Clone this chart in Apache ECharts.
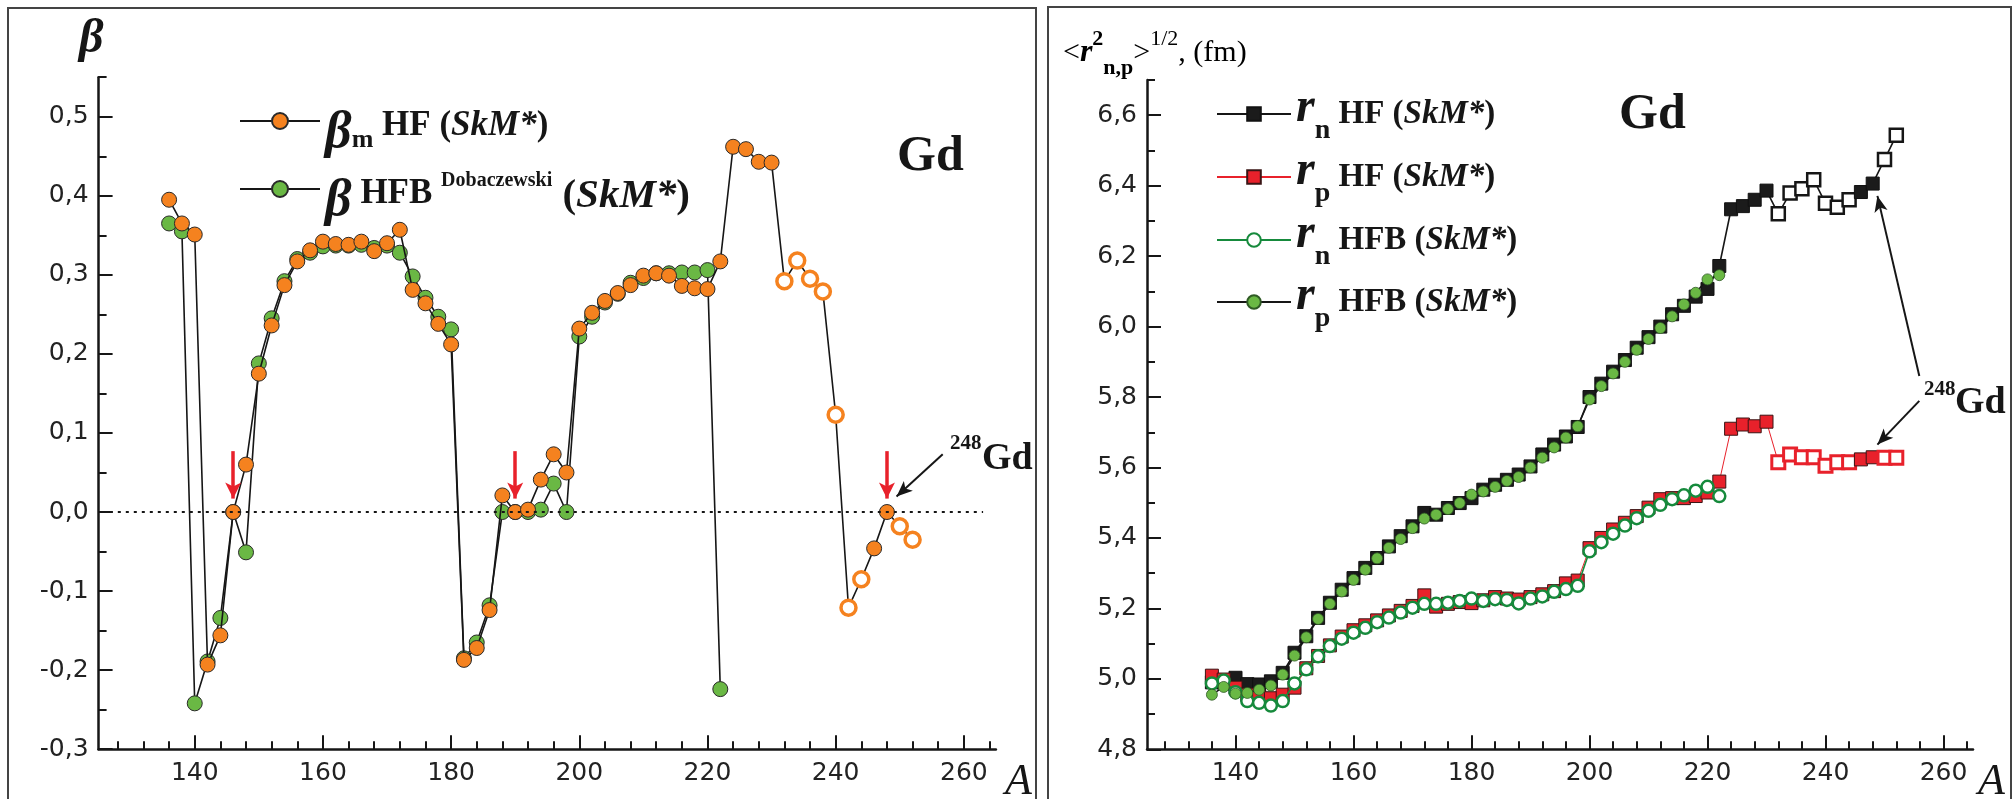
<!DOCTYPE html>
<html><head><meta charset="utf-8">
<script src="https://cdn.jsdelivr.net/npm/echarts@6/dist/echarts.min.js"></script>
<style>html,body{margin:0;padding:0;background:#fff}#c{width:2014px;height:799px}</style>
</head><body><div id="c"></div>
<script>
// ---------- data ----------
const A_HF  = [136,138,140,142,144,146,148,150,152,154,156,158,160,162,164,166,168,170,172,174,176,178,180,182,184,186,188,190,192,194,196,198,200,202,204,206,208,210,212,214,216,218,220,222,224,226,228,230,232,234,236,238,240,242,244,246,248,250,252];
const A_HFB = [136,138,140,142,144,146,148,150,152,154,156,158,160,162,164,166,168,170,172,174,176,178,180,182,184,186,188,190,192,194,196,198,200,202,204,206,208,210,212,214,216,218,220,222];
const openA = [232,234,236,238,240,242,244,250,252];   // nuclei drawn with open symbols
const arrowA = [146,190,248];                           // nuclei marked with red arrows

const betaHF  = [0.395,0.365,0.351,-0.193,-0.156,0.000,0.060,0.175,0.236,0.287,0.317,0.331,0.342,0.339,0.338,0.342,0.330,0.340,0.357,0.281,0.264,0.238,0.212,
                 -0.187,-0.172,-0.124,0.021,0.000,0.003,0.041,0.073,0.050,0.232,0.252,0.267,0.277,0.287,0.299,0.302,0.299,0.286,0.283,0.282,0.317,
                 0.462,0.459,0.443,0.442,0.292,0.318,0.295,0.279,0.123,-0.121,-0.085,-0.046,0.000,-0.018,-0.035];
const betaHFB = [0.365,0.355,-0.242,-0.189,-0.134,0.000,-0.051,0.188,0.245,0.292,0.320,0.328,0.336,0.337,0.337,0.338,0.334,0.337,0.328,0.298,0.271,0.247,0.231,
                 -0.185,-0.165,-0.118,0.000,0.000,0.000,0.003,0.036,0.000,0.222,0.247,0.265,0.276,0.290,0.296,0.302,0.302,0.303,0.303,0.306,-0.224];

const rnHF  = [4.990,4.990,5.003,4.985,4.984,4.993,5.017,5.074,5.121,5.173,5.216,5.253,5.286,5.315,5.343,5.376,5.405,5.433,5.471,5.466,5.485,5.499,5.513,
               5.537,5.551,5.565,5.580,5.603,5.637,5.665,5.688,5.715,5.800,5.838,5.872,5.905,5.940,5.970,6.000,6.035,6.059,6.085,6.107,6.172,
               6.333,6.342,6.360,6.386,6.320,6.379,6.391,6.417,6.350,6.339,6.360,6.382,6.406,6.474,6.543];
const rpHF  = [5.009,4.998,4.975,4.955,4.950,4.945,4.955,4.975,5.030,5.065,5.095,5.120,5.138,5.152,5.166,5.180,5.193,5.207,5.237,5.205,5.213,5.218,5.215,
               5.223,5.232,5.228,5.225,5.232,5.240,5.249,5.271,5.279,5.371,5.400,5.424,5.443,5.462,5.486,5.510,5.513,5.513,5.519,5.529,5.560,
               5.710,5.722,5.717,5.730,5.615,5.637,5.629,5.629,5.605,5.615,5.615,5.623,5.629,5.628,5.628];
const rnHFB = [4.987,4.995,4.962,4.937,4.932,4.924,4.937,4.987,5.027,5.064,5.093,5.114,5.131,5.145,5.161,5.174,5.188,5.202,5.213,5.213,5.216,5.221,5.228,
               5.221,5.226,5.224,5.214,5.228,5.234,5.247,5.255,5.264,5.362,5.388,5.412,5.435,5.456,5.477,5.494,5.510,5.521,5.534,5.545,5.519];
const rpHFB = [4.955,4.977,4.958,4.960,4.969,4.981,5.012,5.066,5.118,5.170,5.213,5.248,5.281,5.310,5.342,5.372,5.397,5.428,5.455,5.466,5.482,5.499,5.523,
               5.532,5.545,5.562,5.573,5.600,5.628,5.657,5.685,5.717,5.793,5.831,5.867,5.900,5.934,5.965,5.996,6.029,6.063,6.096,6.134,6.146];

const xMajor = [140,160,180,200,220,240,260];
const xMinor = [128,132,136,144,148,152,156,164,168,172,176,184,188,192,196,204,208,212,216,224,228,232,236,244,248,252,256,264];
const yMajorL = [-0.3,-0.2,-0.1,0.0,0.1,0.2,0.3,0.4,0.5];
const yMinorL = [-0.25,-0.15,-0.05,0.05,0.15,0.25,0.35,0.45,0.55];
const yMajorR = [4.8,5.0,5.2,5.4,5.6,5.8,6.0,6.2,6.4,6.6];
const yMinorR = [4.9,5.1,5.3,5.5,5.7,5.9,6.1,6.3,6.5,6.7];

// ---------- helpers ----------
const INK = '#161616';
const ORANGE = '#f5821f', GREEN = '#6ab844', DGREEN = '#168a3c', RED = '#e8212b';
const SERIF = 'Liberation Serif', SANS = 'DejaVu Sans';
function build(xs, ys, openStyle) {
  return xs.map((a, i) => openA.includes(a) && openStyle ? {value: [a, ys[i]], itemStyle: openStyle} : [a, ys[i]]);
}
const comma = v => v.toFixed(1).replace('.', ',');

function axesPair(grid, min, max, major, minor, isX, fmt) {
  const common = {gridIndex: grid, type: 'value', min: min, max: max, splitLine: {show: false}};
  const pos = isX ? 'bottom' : 'left';
  return [
    Object.assign({}, common, {
      position: pos,
      axisLine: {show: true, onZero: false, lineStyle: {color: INK, width: 2.5}},
      axisTick: {show: true, inside: true, length: 14, customValues: major, lineStyle: {color: INK, width: 2}},
      axisLabel: {show: true, customValues: major, formatter: fmt, margin: isX ? 12 : 10,
                  fontFamily: SANS, fontSize: 25, color: '#222'}
    }),
    Object.assign({}, common, {
      position: pos,
      axisLine: {show: false, onZero: false},
      axisTick: {show: true, inside: true, length: 8, customValues: minor, lineStyle: {color: INK, width: 2}},
      axisLabel: {show: false}
    })
  ];
}

const xAxes = [].concat(
  axesPair(0, 125, 265, xMajor, xMinor, true, v => String(v)),
  axesPair(1, 125, 265, xMajor, xMinor, true, v => String(v))
);
const yAxes = [].concat(
  axesPair(0, -0.3, 0.55, yMajorL, yMinorL, false, comma),
  axesPair(1, 4.8, 6.7, yMajorR, yMinorR, false, comma)
);

// ---------- legend rich text ----------
const richL = {
  t: {fontFamily: SERIF, fontWeight: 'bold', fontSize: 35, lineHeight: 38, padding: [13, 0, 3, 0], color: INK},
  i: {fontFamily: SERIF, fontWeight: 'bold', fontStyle: 'italic', fontSize: 35, lineHeight: 38, padding: [13, 0, 3, 0], color: INK},
  T: {fontFamily: SERIF, fontWeight: 'bold', fontSize: 41, lineHeight: 38, padding: [15, 0, 1, 0], color: INK},
  I: {fontFamily: SERIF, fontWeight: 'bold', fontStyle: 'italic', fontSize: 41, lineHeight: 38, padding: [15, 0, 1, 0], color: INK},
  g: {fontFamily: SERIF, fontStyle: 'italic', fontWeight: 'bold', fontSize: 52, lineHeight: 20, padding: [30, 0, 4, 0], color: INK},
  s: {fontFamily: SERIF, fontWeight: 'bold', fontSize: 26, lineHeight: 14, padding: [39, 0, 1, 0], color: INK},
  p: {fontFamily: SERIF, fontWeight: 'bold', fontSize: 20, lineHeight: 14, padding: [12, 0, 28, 0], color: INK}
};
const richR = {
  t: {fontFamily: SERIF, fontWeight: 'bold', fontSize: 33, lineHeight: 38, padding: [8, 0, 8, 0], color: INK},
  i: {fontFamily: SERIF, fontWeight: 'bold', fontStyle: 'italic', fontSize: 33, lineHeight: 38, padding: [8, 0, 8, 0], color: INK},
  r: {fontFamily: SERIF, fontWeight: 'bold', fontStyle: 'italic', fontSize: 48, lineHeight: 20, padding: [12, 0, 22, 0], color: INK},
  s: {fontFamily: SERIF, fontWeight: 'bold', fontSize: 28, lineHeight: 14, padding: [37, 0, 3, 0], color: INK}
};
const legendText = {
  'βm HF (SkM*)': '{g|β}{s|m}{t| HF (}{i|SkM*}{t|)}',
  'β HFB Dobaczewski (SkM*)': '{g|β}{t| HFB }{p|Dobaczewski}{T| (}{I|SkM*}{T|)}',
  'rn HF (SkM*)': '{r|r}{s|n}{t| HF (}{i|SkM*}{t|)}',
  'rp HF (SkM*)': '{r|r}{s|p}{t| HF (}{i|SkM*}{t|)}',
  'rn HFB (SkM*)': '{r|r}{s|n}{t| HFB (}{i|SkM*}{t|)}',
  'rp HFB (SkM*)': '{r|r}{s|p}{t| HFB (}{i|SkM*}{t|)}'
};
function legendFor(name, left, rowY, rich, iw, ih) {
  return {data: [name], left: left, top: rowY - 27, padding: 0, itemWidth: iw, itemHeight: ih,
          selectedMode: false, formatter: n => legendText[n], textStyle: {rich: rich}};
}

// ---------- series ----------
const openOrange = {color: '#fff', borderColor: ORANGE, borderWidth: 3.5};
const openBlack  = {color: '#fff', borderColor: INK, borderWidth: 2.5};
const openRed    = {color: '#fff', borderColor: RED, borderWidth: 3};

const redArrows = arrowA.map(a => [
  {coord: [a, 0.077], symbol: 'none', lineStyle: {color: RED, width: 3.5, type: 'solid'}},
  {coord: [a, 0.017], symbol: 'arrow', symbolSize: [12, 16]}
]);

const series = [
  {name: 'β HFB Dobaczewski (SkM*)', type: 'line', xAxisIndex: 0, yAxisIndex: 0, data: build(A_HFB, betaHFB, null),
   symbol: 'circle', symbolSize: 15, itemStyle: {color: GREEN, borderColor: '#2a2a2a', borderWidth: 1},
   lineStyle: {color: INK, width: 1.6}, z: 3},
  {name: 'βm HF (SkM*)', type: 'line', xAxisIndex: 0, yAxisIndex: 0, data: build(A_HF, betaHF, openOrange),
   symbol: 'circle', symbolSize: 15, itemStyle: {color: ORANGE, borderColor: '#2a2a2a', borderWidth: 1},
   lineStyle: {color: INK, width: 1.6}, z: 4,
   markLine: {silent: true, animation: false, label: {show: false}, symbol: ['none', 'none'],
     data: [
       [{coord: [125.5, 0], symbol: 'none', lineStyle: {color: INK, width: 2.2, type: [3, 5]}},
        {coord: [263, 0], symbol: 'none'}]
     ].concat(redArrows)
      .concat([[{coord: [256.7, 0.073], symbol: 'none', lineStyle: {color: INK, width: 2, type: 'solid'}},
                {coord: [249.5, 0.0195], symbol: 'arrow', symbolSize: [10, 16]}]])
   }},
  {name: 'rn HF (SkM*)', type: 'line', xAxisIndex: 2, yAxisIndex: 2, data: build(A_HF, rnHF, openBlack),
   symbol: 'rect', symbolSize: 13, itemStyle: {color: '#1b1b1b', borderColor: '#111', borderWidth: 1},
   lineStyle: {color: INK, width: 1.6}, z: 3,
   markLine: {silent: true, animation: false, label: {show: false}, symbol: ['none', 'none'],
     lineStyle: {color: INK, width: 2, type: 'solid'},
     data: [
       [{coord: [255.9, 5.860], symbol: 'none'}, {coord: [248.8, 6.371], symbol: 'arrow', symbolSize: [10, 16]}],
       [{coord: [255.9, 5.789], symbol: 'none'}, {coord: [248.8, 5.665], symbol: 'arrow', symbolSize: [10, 16]}]
     ]}},
  {name: 'rp HF (SkM*)', type: 'line', xAxisIndex: 2, yAxisIndex: 2, data: build(A_HF, rpHF, openRed),
   symbol: 'rect', symbolSize: 13, itemStyle: {color: RED, borderColor: '#3a1515', borderWidth: 1},
   lineStyle: {color: RED, width: 1}, z: 3},
  {name: 'rn HFB (SkM*)', type: 'line', xAxisIndex: 2, yAxisIndex: 2, data: build(A_HFB, rnHFB, null),
   symbol: 'circle', symbolSize: 12, itemStyle: {color: '#fff', borderColor: DGREEN, borderWidth: 2.5},
   lineStyle: {color: DGREEN, width: 1.6}, z: 4},
  {name: 'rp HFB (SkM*)', type: 'line', xAxisIndex: 2, yAxisIndex: 2, data: build(A_HFB, rpHFB, null),
   symbol: 'circle', symbolSize: 11, itemStyle: {color: GREEN, borderColor: '#2f5a25', borderWidth: 0.8},
   lineStyle: {color: INK, width: 1.6}, z: 4}
].map(s => Object.assign({animation: false, emphasis: {disabled: true}, clip: false}, s));

// ---------- annotations ----------
const graphic = [
  {type: 'rect', shape: {x: 8, y: 8, width: 1028, height: 840}, style: {fill: 'none', stroke: '#444', lineWidth: 2}, silent: true},
  {type: 'rect', shape: {x: 1048, y: 7, width: 963, height: 840}, style: {fill: 'none', stroke: '#444', lineWidth: 2}, silent: true},
  {type: 'text', left: 79, top: 16, style: {text: 'β', font: 'italic bold 48px "Liberation Serif"', fill: INK}},
  {type: 'text', left: 897, top: 132, style: {text: 'Gd', font: 'bold 50px "Liberation Serif"', fill: INK}},
  {type: 'text', left: 1619, top: 90, style: {text: 'Gd', font: 'bold 50px "Liberation Serif"', fill: INK}},
  {type: 'text', left: 950, top: 433, style: {text: '248', font: 'bold 21px "Liberation Serif"', fill: INK}},
  {type: 'text', left: 982, top: 440, style: {text: 'Gd', font: 'bold 38px "Liberation Serif"', fill: INK}},
  {type: 'text', left: 1924, top: 379, style: {text: '248', font: 'bold 21px "Liberation Serif"', fill: INK}},
  {type: 'text', left: 1955, top: 384, style: {text: 'Gd', font: 'bold 38px "Liberation Serif"', fill: INK}},
  {type: 'text', left: 1005, top: 760, style: {text: 'A', font: 'italic 44px "Liberation Serif"', fill: INK}},
  {type: 'text', left: 1978, top: 760, style: {text: 'A', font: 'italic 44px "Liberation Serif"', fill: INK}},
  {type: 'text', left: 1063, top: 20, style: {
    text: '{a|<}{r|r}{u|2}{d|n,p}{a|>}{v|1/2}{a|, (fm)}',
    rich: {
      a: {fontFamily: SERIF, fontSize: 30, lineHeight: 36, padding: [12, 0, 12, 0], color: INK},
      r: {fontFamily: SERIF, fontWeight: 'bold', fontStyle: 'italic', fontSize: 32, lineHeight: 36, padding: [12, 0, 12, 0], color: INK},
      u: {fontFamily: SERIF, fontWeight: 'bold', fontSize: 22, lineHeight: 16, padding: [8, 0, 36, 0], color: INK},
      d: {fontFamily: SERIF, fontWeight: 'bold', fontSize: 22, lineHeight: 16, padding: [37, 0, 7, 0], color: INK},
      v: {fontFamily: SERIF, fontSize: 22, lineHeight: 16, padding: [8, 0, 36, 0], color: INK}
    }}}
];

const chart = echarts.init(document.getElementById('c'), null, {width: 2014, height: 799});
chart.setOption({
  animation: false,
  backgroundColor: '#fff',
  grid: [
    {left: 98.6, top: 77.2, width: 897.3, height: 672, containLabel: false},
    {left: 1147, top: 80, width: 826, height: 669.3, containLabel: false}
  ],
  xAxis: xAxes,
  yAxis: yAxes,
  legend: [
    legendFor('βm HF (SkM*)', 239, 105, richL, 80, 20),
    legendFor('β HFB Dobaczewski (SkM*)', 239, 173, richL, 80, 20),
    legendFor('rn HF (SkM*)', 1216, 100, richR, 74, 17),
    legendFor('rp HF (SkM*)', 1216, 163, richR, 74, 17),
    legendFor('rn HFB (SkM*)', 1216, 226, richR, 74, 17),
    legendFor('rp HFB (SkM*)', 1216, 288, richR, 74, 17)
  ],
  series: series,
  graphic: graphic
});
</script></body></html>
